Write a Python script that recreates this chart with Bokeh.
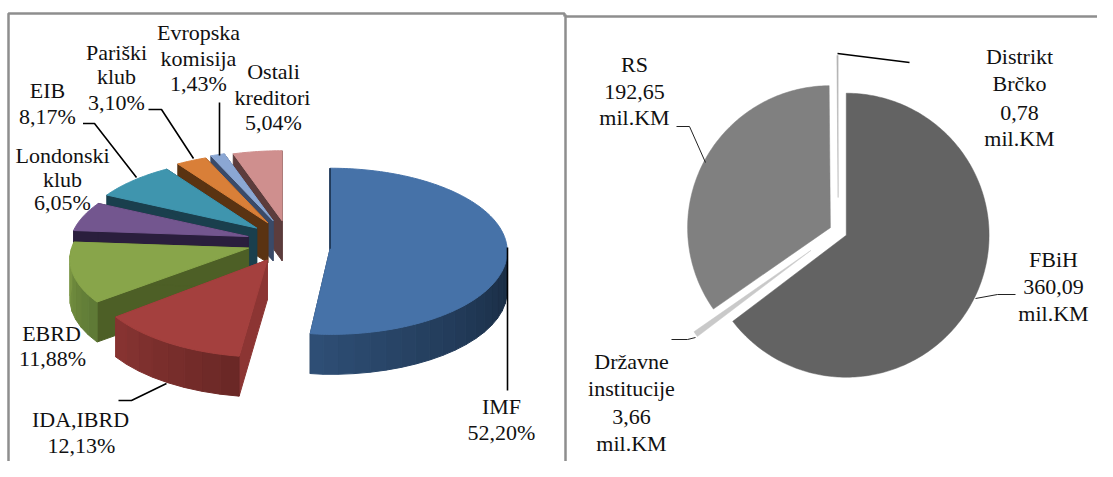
import math
from bokeh.plotting import figure
from bokeh.models import Range1d
from bokeh.core.properties import value
from bokeh.embed import file_html
from bokeh.resources import INLINE

# ---- data
debt_names = ["IMF", "IDA,IBRD", "EBRD", "Londonski klub", "EIB", "Pariški klub", "Evropska komisija", "Ostali kreditori"]
debt_shares = [52.20, 12.13, 11.88, 6.05, 8.17, 3.10, 1.43, 5.04]
debt_labels = ["52,20%", "12,13%", "11,88%", "6,05%", "8,17%", "3,10%", "1,43%", "5,04%"]
entity_names = ["FBiH", "Državne institucije", "RS", "Distrikt Brčko"]
entity_values = [360.09, 3.66, 192.65, 0.78]
entity_labels = ["360,09", "3,66", "192,65", "0,78"]

# ---- styles
top_colors = ["#4672a8", "#a4403e", "#88a54a", "#73568f", "#3f95ae", "#d97f38", "#8ba7d3", "#cf8f8e"]
cut_colors = ["#1c3350", "#8c3533", "#4d5f26", "#2a1e3d", "#1a3f4d", "#5a3312", "#3a4a68", "#5c3c3c"]
wall_light = ["#2f5078", "#8a3533", "#7e9a45", "#2a1e3d", "#1a3f4d", "#5a3312", "#3a4a68", "#5c3c3c"]
wall_dark = ["#182a40", "#6b2826", "#5f7a36", "#2a1e3d", "#1a3f4d", "#5a3312", "#3a4a68", "#5c3c3c"]
entity_colors = ["#636363", "#c9c9c9", "#808080", "#b4b4b4"]

W, H = 1097, 461
p = figure(width=W, height=H, x_range=Range1d(0, W), y_range=Range1d(H, 0),
           output_backend="svg", toolbar_location=None, min_border=0,
           x_axis_type=None, y_axis_type=None, outline_line_color=None,
           background_fill_color="white", border_fill_color="white")
p.grid.visible = False


def lerp(a, b, f):
    ca = [int(a[i:i + 2], 16) for i in (1, 3, 5)]
    cb = [int(b[i:i + 2], 16) for i in (1, 3, 5)]
    return "#%02x%02x%02x" % tuple(round(x + (y - x) * f) for x, y in zip(ca, cb))


# ---- left: exploded 3-D pie, with perspective
CX, CY = 287, 241
RX, RY, PERSP, DEPTH = 177, 79.5, 0.136, 40
EXPLODE_X, EXPLODE_Y = 40.7, 19
tip_shift_x = [2, 0, 0, 0, 0, 0, 0, 1]
tip_shift_y = [6, 2, 1, 0, -1, -2, -3, -2]
slice_ry = [83, 84, RY, RY, RY, RY, RY, RY]
slice_k = [0.03, PERSP, PERSP, PERSP, PERSP, PERSP, PERSP, PERSP]
slice_rx_left = [140, RX, RX, RX, RX, RX, RX, RX]


def arc(t0, t1, n):
    return [t0 + (t1 - t0) * i / n for i in range(n + 1)]


xs, ys, cols = [], [], []
edge_x, edge_y = [], []
total = sum(debt_shares)
angle = 0.0
slices = []
for i, s in enumerate(debt_shares):
    a0 = angle
    a1 = angle + s / total * 360
    angle = a1
    slices.append((i, a0, a1))

# painter's order: back to front
for i, a0, a1 in [slices[j] for j in (7, 6, 5, 4, 3, 2, 1, 0)]:
    mid = math.radians((a0 + a1) / 2)
    tx = CX + EXPLODE_X * math.sin(mid) + tip_shift_x[i]
    ty = CY - EXPLODE_Y * math.cos(mid) + tip_shift_y[i]
    ry, k = slice_ry[i], slice_k[i]

    def pt(deg):
        r = math.radians(deg)
        w = 1 / (1 + k * math.cos(r))
        rx = RX if math.sin(r) >= 0 else slice_rx_left[i]
        return tx + rx * math.sin(r) * w, ty - ry * math.cos(r) * w

    # cut faces
    for edge in (a0, a1):
        ex, ey = pt(edge)
        xs.append([tx, ex, ex, tx])
        ys.append([ty, ey, ey + DEPTH, ty + DEPTH])
        cols.append(cut_colors[i])
    # outer wall, shaded in strips
    w0, w1 = max(a0, 90), min(a1, 270)
    if w1 > w0:
        n = max(2, int((w1 - w0) / 5))
        ts = arc(w0, w1, n)
        for j in range(n):
            x0, y0 = pt(ts[j])
            x1, y1 = pt(ts[j + 1])
            xs.append([x0, x1, x1, x0])
            ys.append([y0, y1, y1 + DEPTH, y0 + DEPTH])
            cols.append(lerp(wall_dark[i], wall_light[i], j / n))
    # top face
    pts = [pt(d) for d in arc(a0, a1, max(4, int(a1 - a0)))]
    xs.append([tx] + [q[0] for q in pts])
    ys.append([ty] + [q[1] for q in pts])
    cols.append(top_colors[i])
    if i == 0:  # the thin visible cut edge of the biggest slice
        ex, ey = pt(a0)
        edge_x, edge_y = [ex, tx], [ey, ty]

p.patches(xs, ys, fill_color=cols, line_color=cols, line_width=1)
p.line(edge_x, edge_y, line_color=cut_colors[0], line_width=1.5)

# ---- right: exploded flat pie
CX2, CY2 = 837.8, 231
RX2, RY2 = 142.8, 142
EX2 = 1.058
explode2 = [8.4, 32, 8.4, 34]
xs2, ys2 = [], []
tot2 = sum(entity_values)
angle = 0.0
for v, d in zip(entity_values, explode2):
    a0, a1 = angle, angle + v / tot2 * 360
    angle = a1
    mid = math.radians((a0 + a1) / 2)
    tx = CX2 + d * EX2 * math.sin(mid)
    ty = CY2 - d * math.cos(mid)
    ts = arc(a0, a1, max(2, int(a1 - a0)))
    xs2.append([tx] + [tx + RX2 * math.sin(math.radians(t)) for t in ts])
    ys2.append([ty] + [ty - RY2 * math.cos(math.radians(t)) for t in ts])
p.patches(xs2, ys2, fill_color=entity_colors, line_color=entity_colors, line_width=0.5)

# ---- panel frames
frame_color = "#8e8e8e"
p.line([8, 8, 564, 564], [477, 13, 13, 16], line_color=frame_color, line_width=2.5)
p.line([565, 565], [14, 477], line_color=frame_color, line_width=2.5)
p.line([565, 1113], [16, 16], line_color=frame_color, line_width=2.5)

# ---- leader lines
thick = [
    ([507, 507], [247, 390]),
    ([166, 131, 118], [383, 400, 400]),
    ([136, 94, 82.5], [177, 123, 123]),
    ([193, 161, 148], [158, 109, 109]),
    ([219, 219], [155, 102]),
    ([837, 909], [53, 62]),
]
thin = [
    ([705, 689, 676], [162, 126, 126]),
    ([975, 997, 1015], [298, 294, 294]),
    ([695, 687, 671], [337, 339, 339]),
]
for lx, ly in thick:
    p.line(lx, ly, line_color="black", line_width=1.6)
for lx, ly in thin:
    p.line(lx, ly, line_color="#222222", line_width=1)

# ---- labels (x, y of each line)
placed = [
    ("IMF", 501, 406), (debt_labels[0], 501, 432),
    ("IDA,IBRD", 80, 419), (debt_labels[1], 81, 445),
    ("EBRD", 51, 333), (debt_labels[2], 52, 358),
    ("Londonski", 62, 155), ("klub", 62, 179), (debt_labels[3], 62, 202),
    ("EIB", 47, 90), (debt_labels[4], 47, 116),
    ("Pariški", 116, 52), ("klub", 116, 76), (debt_labels[5], 116, 102),
    ("Evropska", 198, 32), ("komisija", 198, 58), (debt_labels[6], 198, 83),
    ("Ostali", 273, 71), ("kreditori", 272, 97), (debt_labels[7], 273, 122),
    ("RS", 634, 64), (entity_labels[2], 634, 91), ("mil.KM", 634, 117),
    ("Distrikt", 1019, 56), ("Brčko", 1019, 83), (entity_labels[3], 1019, 112), ("mil.KM", 1019, 138),
    ("FBiH", 1053, 259), (entity_labels[0], 1053, 286), ("mil.KM", 1053, 313),
    ("Državne", 631, 361), ("institucije", 631, 388), (entity_labels[1], 631, 416), ("mil.KM", 631, 443),
]
p.text([q[1] for q in placed], [q[2] for q in placed], text=[q[0] for q in placed],
        text_font=value("Liberation Serif"), text_font_size="22px", text_color="#111111",
        text_align="center", text_baseline="middle")

open("out.html", "w").write(file_html(p, INLINE))
